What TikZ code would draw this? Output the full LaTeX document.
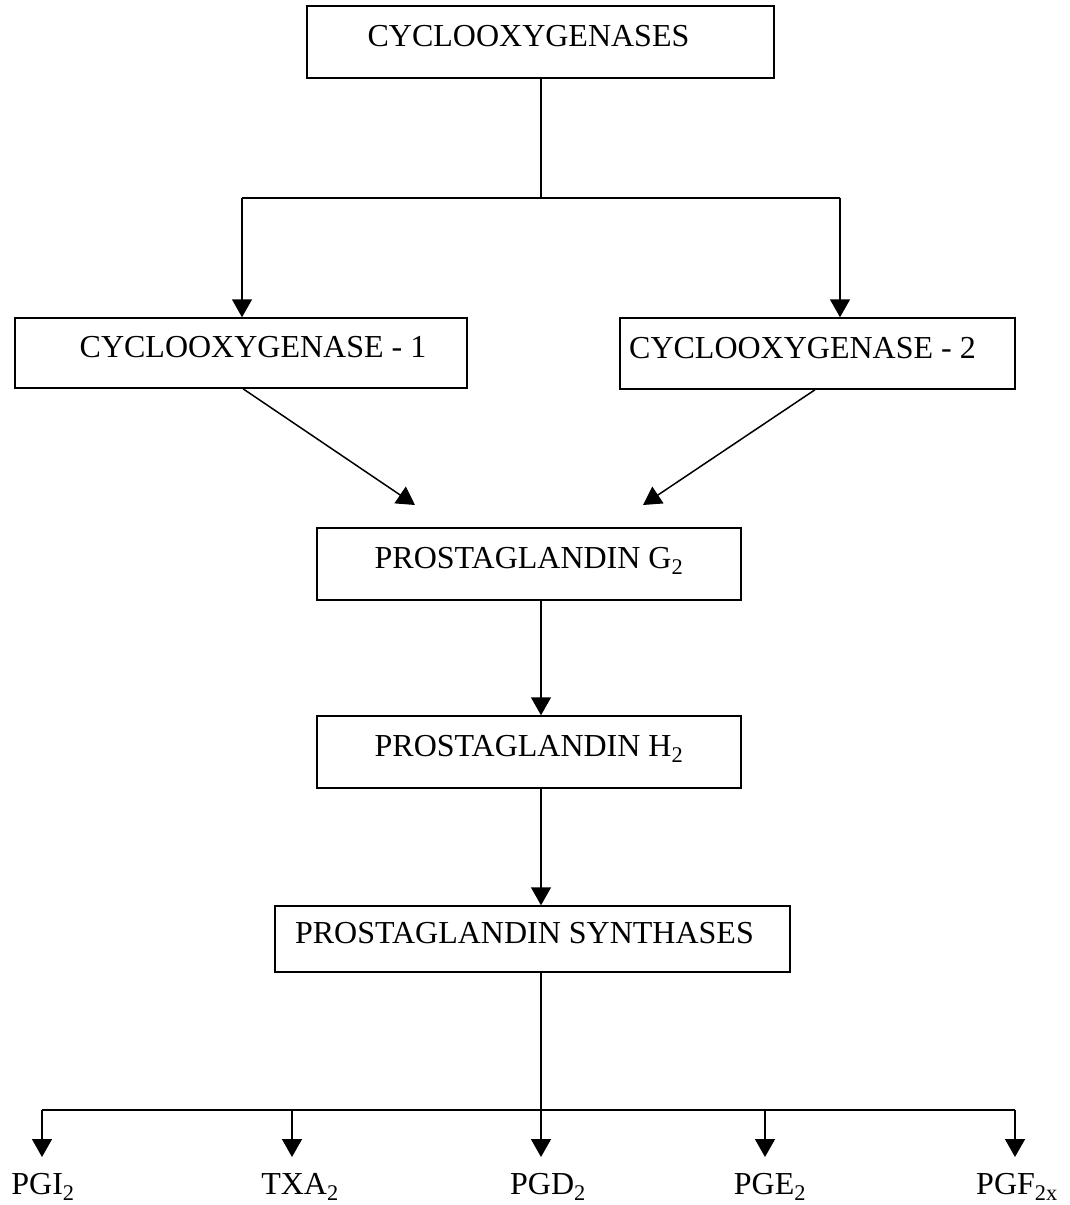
\documentclass[tikz,border=0pt]{standalone}
\usepackage{fontspec}
\setmainfont{Liberation Serif}
\usetikzlibrary{arrows.meta}
\tikzset{
  box/.style={draw, line width=1.5pt, rectangle, inner sep=0pt,
    font=\fontsize{32}{38}\selectfont, text height=21pt, text depth=12pt},
  arr/.style={line width=1.5pt, -{Triangle[length=18pt,width=20pt]}},
  ln/.style={line width=1.5pt},
  prod/.style={inner sep=0pt, anchor=base, font=\fontsize{32}{38}\selectfont, text height=21pt, text depth=0pt}
}
\begin{document}
\begin{tikzpicture}[x=1pt,y=-1pt]
\useasboundingbox (0,0) rectangle (1070,1205);
\node[box, minimum width=467pt, minimum height=72pt] (cox) at (540.5,42) {CYCLOOXYGENASES\hspace*{24pt}};
\node[box, minimum width=452pt, minimum height=70pt] (cox1) at (241,353) {\hspace*{24pt}CYCLOOXYGENASE - 1};
\node[box, minimum width=395pt, minimum height=71pt] (cox2) at (817.5,353.5) {CYCLOOXYGENASE - 2\hspace*{30pt}};
\node[box, minimum width=424pt, minimum height=72pt] (pgg) at (529,564) {PROSTAGLANDIN G\textsubscript{2}};
\node[box, minimum width=424pt, minimum height=72pt] (pgh) at (529,752) {PROSTAGLANDIN H\textsubscript{2}};
\node[box, minimum width=515pt, minimum height=66pt] (syn) at (532.5,939) {PROSTAGLANDIN SYNTHASES\hspace*{16pt}};

\coordinate (split) at (541,198);
\coordinate (bar) at (541,1110);
\coordinate (t1) at (415,505);
\coordinate (t2) at (643,505);

% top split
\draw[ln] (cox.south -| split) -- (split);
\draw[ln] (242,198) -- (840,198);
\draw[arr] (242,198) -- (cox1.north -| 242,0);
\draw[arr] (840,198) -- (cox2.north -| 840,0);

% diagonals
\draw[arr] (cox1.south -| 243,0) -- (t1);
\draw[arr] (cox2.south -| 815,0) -- (t2);

% vertical chain
\draw[arr] (pgg.south -| split) -- (pgh.north -| split);
\draw[arr] (pgh.south -| split) -- (syn.north -| split);
\draw[ln] (syn.south -| split) -- (bar);

% product labels
\node[prod] (p1) at (43,1194) {PGI\textsubscript{2}};
\node[prod] (p2) at (300,1194) {TXA\textsubscript{2}};
\node[prod] (p3) at (548,1194) {PGD\textsubscript{2}};
\node[prod] (p4) at (770,1194) {PGE\textsubscript{2}};
\node[prod] (p5) at (1017,1194) {PGF\textsubscript{2x}};

\draw[ln] (42,1110) -- (1015,1110);
\draw[arr] (42,1110) -- (42,1157);
\draw[arr] (292,1110) -- (292,1157);
\draw[arr] (bar) -- (541,1157);
\draw[arr] (765,1110) -- (765,1157);
\draw[arr] (1015,1110) -- (1015,1157);
\end{tikzpicture}
\end{document}
